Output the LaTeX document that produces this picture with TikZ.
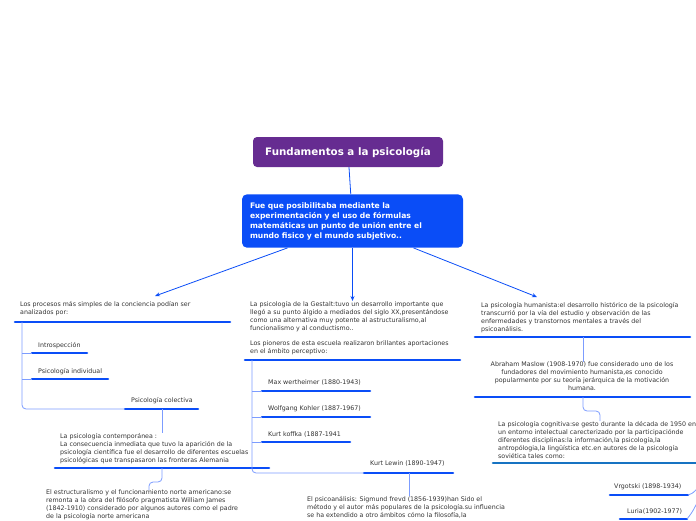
\documentclass[tikz,border=0pt]{standalone}
\usepackage{fontspec}
\setmainfont{DejaVu Sans}
\usepackage{tikz}
\usetikzlibrary{positioning,arrows.meta}
\definecolor{titlepurple}{HTML}{662C91}
\definecolor{mainblue}{HTML}{0A4DF7}
\definecolor{linkblue}{HTML}{7C9CFF}
\definecolor{cogblue}{HTML}{1673C2}
\definecolor{txtgray}{HTML}{333333}

\begin{document}
\begin{tikzpicture}[
			x=1pt, y=-1pt,
			topic/.style={
				anchor=north west,
				inner sep=0pt,
				align=left,
				text=txtgray,
				font=\fontsize{6.3}{8}\selectfont
			},
			bar/.style={line width=2.6pt,mainblue,line cap=round},
			link/.style={linkblue,line width=0.8pt,rounded corners=4pt},
			arrow/.style={-{Stealth[length=5pt,width=4pt]},mainblue,line width=0.8pt}
			]
			\useasboundingbox (0,0) rectangle (696,520);
			\clip (0,0) rectangle (696,520);
			
			% centre
			\node[fill=titlepurple,rounded corners=4pt,minimum width=190pt,minimum height=30pt,
				text=white,font=\bfseries\fontsize{10.3}{12}\selectfont] (title) at (348,152) {Fundamentos a la psicología};
			\node[fill=mainblue,rounded corners=5pt,minimum width=221pt,minimum height=50pt,
				text=white,align=left,text width=205pt,inner sep=8pt,
				font=\bfseries\fontsize{7.6}{10}\selectfont] (fue) at (352.5,221)
				{Fue que posibilitaba mediante la\\experimentación y el uso de fórmulas\\matemáticas un punto de unión entre el\\mundo fisico y el mundo subjetivo..};
			\draw[mainblue,line width=0.8pt] (title) -- (fue);
			
			% left
			\node[topic] (procesos) at (20,301) {Los procesos más simples de la conciencia podían ser\\analizados por:};
			\node[topic] (intro) at (38,342) {Introspección};
			\node[topic] (indiv) at (38,368) {Psicología individual};
			\node[topic] (colectiva) at (131,397) {Psicología colectiva};
			\node[topic] (contemp) at (60,433) {La psicología contemporánea :\\La consecuencia inmediata que tuvo la aparición de la\\psicología científica fue el desarrollo de diferentes escuelas\\psicológicas que transpasaron las fronteras Alemania};
			\node[topic] (estruct) at (46,490) {El estructuralismo y el funcionamiento norte americano:se\\remonta a la obra del filósofo pragmatista William James\\(1842-1910) considerado por algunos autores como el padre\\de la psicología norte americana};
			
			\draw[bar] (15,322) -- (230,322);
			\draw[bar] (32,353) -- (87,353);
			\draw[bar] (32,379) -- (108,379);
			\draw[bar] (125,409) -- (198,409);
			\draw[bar] (55,468) -- (269,468);
			
			\draw[link] (22,322) -- (22,409) -- (125,409);
			\draw[link] (22,353) -- (32,353);
			\draw[link] (22,379) -- (32,379);
			\draw[link] (162,409) -- (contemp.north -| 162,0);
			\draw[link] (162,468) -- (162,482) -- (149,482) -- (estruct.north -| 149,0);
			
			% middle
			\node[topic] (gestalt) at (250,301) {La psicología de la Gestalt:tuvo un desarrollo importante que\\llegó a su punto álgido a mediados del siglo XX,presentándose\\como una alternativa muy potente al astructuralismo,al\\funcionalismo y al conductismo..\\[7pt]Los pioneros de esta escuela realizaron brillantes aportaciones\\en el ámbito perceptivo:};
			\node[topic] (max) at (268,380) {Max wertheimer (1880-1943)};
			\node[topic] (kohler) at (268,406) {Wolfgang Kohler (1887-1967)};
			\node[topic] (koffka) at (268,432) {Kurt koffka (1887-1941};
			\node[topic] (lewin) at (370,461) {Kurt Lewin (1890-1947)};
			\node[topic] (psicoan) at (307,496) {El psicoanálisis: Sigmund frevd (1856-1939)han Sido el\\método y el autor más populares de la psicología.su influencia\\se ha extendido a otro ámbitos cómo la filosofía,la};
			
			\draw[bar] (245,360) -- (460,360);
			\draw[bar] (262,391) -- (370,391);
			\draw[bar] (262,417) -- (370,417);
			\draw[bar] (262,442) -- (350,442);
			\draw[bar] (364,473) -- (453,473);
			
			\draw[link] (252,360) -- (252,473) -- (364,473);
			\draw[link] (252,391) -- (262,391);
			\draw[link] (252,417) -- (262,417);
			\draw[link] (252,442) -- (262,442);
			\draw[link] (409,473) -- (psicoan.north -| 409,0);
			
			% right
			\node[topic] (humanista) at (481,302) {La psicología humanista:el desarrollo histórico de la psicología\\transcurrió por la vía del estudio y observación de las\\enfermedades y transtornos mentales a través del\\psicoanálisis.};
			\node[topic,anchor=north,align=center] (maslow) at (582,362) {Abraham Maslow (1908-1970) fue considerado uno de los\\fundadores del movimiento humanista,es conocido\\popularmente por su teoría jerárquica de la motivación\\humana.};
			\node[topic] (cognitiva) at (498,421) {La psicología cognitiva:se gesto durante la década de 1950 en\\un entorno intelectual carecterizado por la participaciónde\\diferentes disciplinas:la información,la psicología,la\\antropólogia,la lingüística etc.en autores de la psicología\\soviética tales como:};
			\node[topic] (vrgotski) at (614,484) {Vrgotski (1898-1934)};
			\node[topic] (luria) at (627,509) {Luria(1902-1977)};
			\coordinate (cogout) at (712,470);
			
			\draw[bar] (475,337) -- (690,337);
			\draw[bar] (475,397) -- (690,397);
			\draw[bar,cogblue] (493,463) -- (700,463);
			\draw[bar] (610,495) -- (688,495);
			\draw[bar] (620,519) -- (687,519);
			
			\draw[link] (583,337) -- (maslow.north -| 583,0);
			\draw[link] (583,397) -- (583,411) -- (600,411) -- (cognitiva.north -| 600,0);
			\draw[linkblue,line width=0.8pt] (688,495) .. controls (694,493) .. (cogout);
			\draw[linkblue,line width=0.8pt] (687,519) .. controls (694,510) .. (cogout);
			
			% arrows
			\draw[arrow] ([xshift=-65pt]fue.south) -- (155,296);
			\draw[arrow] (fue.south) -- (gestalt.north -| fue.south);
			\draw[arrow] ([xshift=61pt]fue.south) -- (537,297);
			
		\end{tikzpicture}
\end{document}
